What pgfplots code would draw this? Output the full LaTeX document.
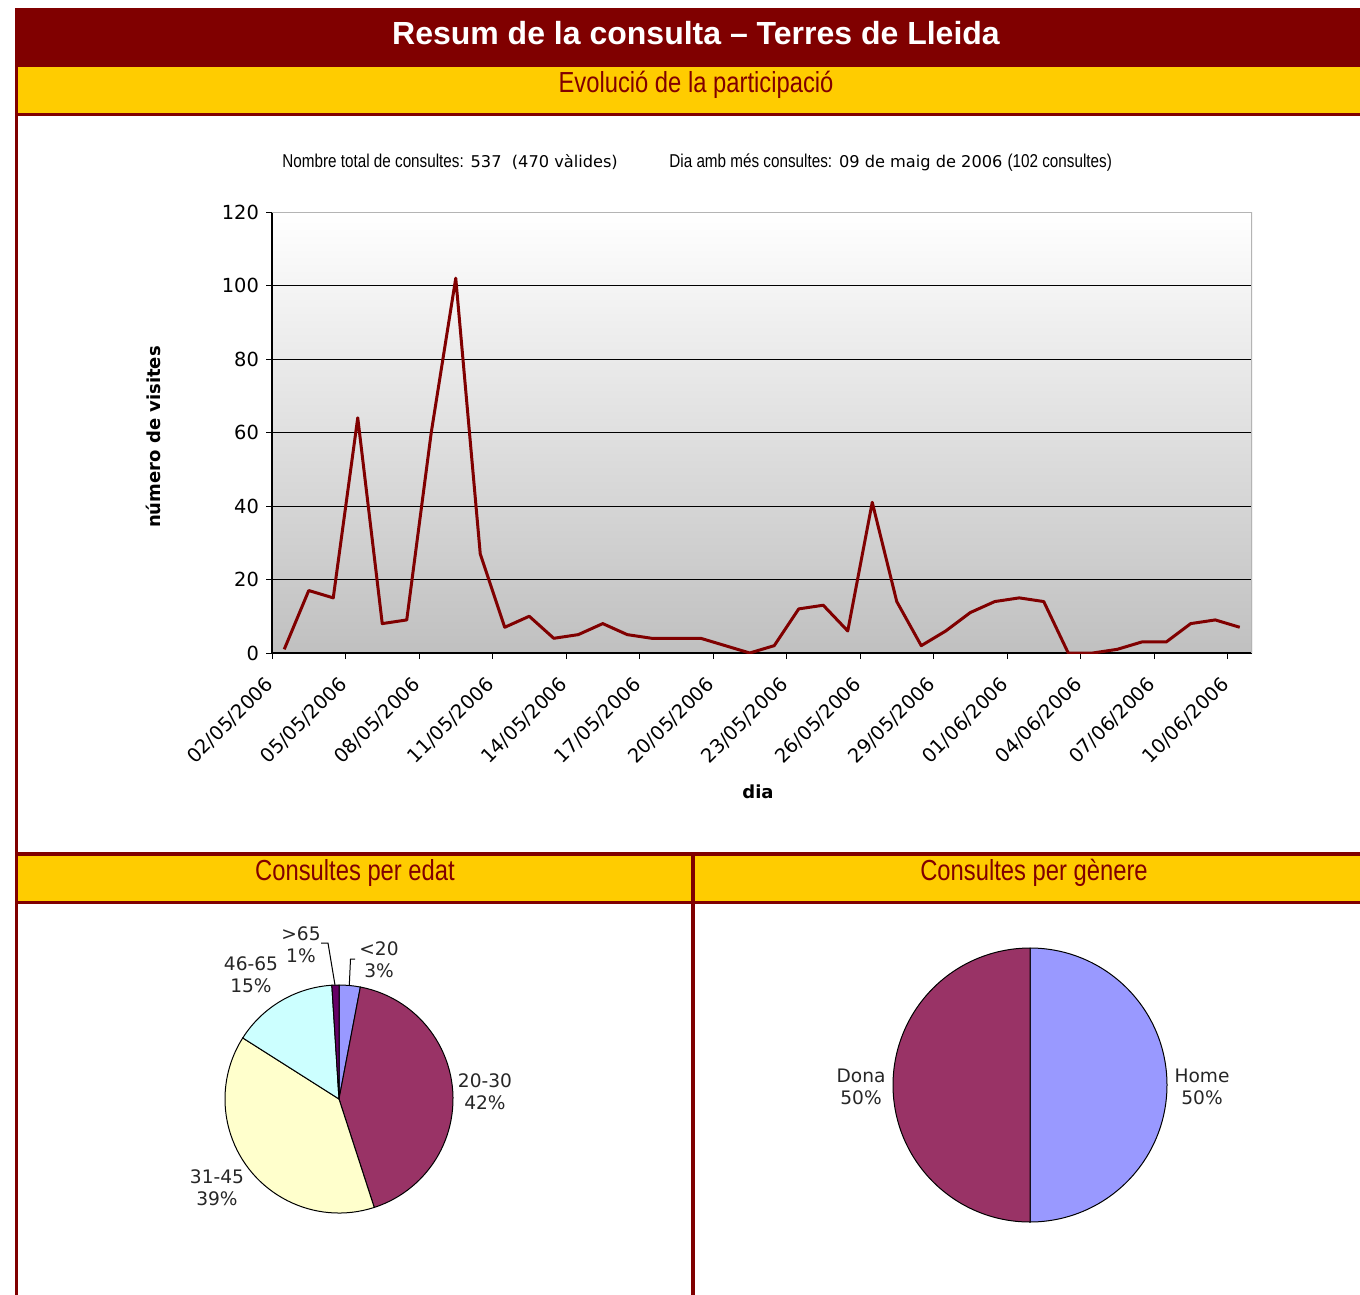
\documentclass[border=0pt]{standalone}
\usepackage{fontspec}
\setmainfont{DejaVu Sans}
\newfontfamily\narrowfont[FakeStretch=0.82]{Liberation Sans}
\newfontfamily\arialfont{Liberation Sans}
\usepackage{pgfplots}
\pgfplotsset{compat=1.18}
\definecolor{dred}{HTML}{800000}
\definecolor{gold}{HTML}{FFCC00}
\definecolor{peri}{HTML}{9999FF}
\definecolor{plum}{HTML}{993366}
\definecolor{ivory}{HTML}{FFFFCC}
\definecolor{lcyan}{HTML}{CCFFFF}
\definecolor{dpurp}{HTML}{660066}
\definecolor{lgray}{HTML}{C0C0C0}
\definecolor{bgray}{HTML}{B4B4B4}

\pgfplotstableread{
day val
0 1
1 17
2 15
3 64
4 8
5 9
6 60
7 102
8 27
9 7
10 10
11 4
12 5
13 8
14 5
15 4
16 4
17 4
18 2
19 0
20 2
21 12
22 13
23 6
24 41
25 14
26 2
27 6
28 11
29 14
30 15
31 14
32 0
33 0
34 1
35 3
36 3
37 8
38 9
39 7
}\visits

% #1 start percent, #2 percent, #3 colour, #4 radius
\newcommand{\slice}[4]{%
  \filldraw[fill=#3, draw=black, line width=0.5pt] (axis cs:0,0) -- (axis cs:{cos(90-3.6*#1)},{sin(90-3.6*#1)})
    arc[start angle={90-3.6*#1}, end angle={90-3.6*(#1+#2)}, radius=#4] -- cycle;}

\begin{document}
\begin{tikzpicture}
\begin{scope}[x=0.5pt,y=-0.5pt]
\useasboundingbox (0,0) rectangle (1360,1295);
% frame and bands
\fill[dred] (15,8) rectangle (1360,67);
\fill[gold] (18,67) rectangle (1360,113);
\fill[dred] (15,113) rectangle (1360,116);
\fill[dred] (15,8) rectangle (18,1295);
\fill[dred] (15,852) rectangle (1360,856);
\fill[gold] (18,856) rectangle (1360,901);
\fill[dred] (15,901) rectangle (1360,904);
\fill[dred] (691,852) rectangle (695,1295);
\fill[gold] (695,856) rectangle (1360,901);
\node[text=white, font=\arialfont\bfseries\fontsize{16}{19}\selectfont] at (696,33) {Resum de la consulta – Terres de Lleida};
\node[text=dred, font=\narrowfont\fontsize{14.5}{17}\selectfont] at (696,85) {Evolució de la participació};
\node[text=dred, font=\narrowfont\fontsize{14.5}{17}\selectfont] at (355,873) {Consultes per edat};
\node[text=dred, font=\narrowfont\fontsize{14.5}{17}\selectfont] at (1034,873) {Consultes per gènere};
% info line
\node[anchor=base west, inner sep=0pt, font=\fontsize{8.1}{10}\selectfont] at (282,168)
  {{\narrowfont\fontsize{9.3}{10}\selectfont Nombre total de consultes:} 537\ \ (470 vàlides)};
\node[anchor=base west, inner sep=0pt, font=\fontsize{8.1}{10}\selectfont] at (669,168)
  {{\narrowfont\fontsize{9.3}{10}\selectfont Dia amb més consultes:} 09 de maig de 2006 {\narrowfont\fontsize{9.3}{10}\selectfont (102 consultes)}};
% axis labels
\node[rotate=90, font=\bfseries\fontsize{9}{11}\selectfont] at (153,437) {número de visites};
\node[font=\bfseries\fontsize{9}{11}\selectfont] at (758,792) {dia};
% pie labels
\begin{scope}[every node/.style={align=center, font=\fontsize{9.3}{11}\selectfont, text=black!85}]
\node at (301,945) {>65\\1\%};
\node at (379,960) {<20\\3\%};
\node at (251,975) {46-65\\15\%};
\node at (485,1092) {20-30\\42\%};
\node at (217,1188) {31-45\\39\%};
\node at (861,1087) {Dona\\50\%};
\node at (1202,1087) {Home\\50\%};
\end{scope}
\draw[black, line width=0.5pt] (321,943) -- (328,943) -- (335,985);
\draw[black, line width=0.5pt] (355,959) -- (350.5,959) -- (349.3,985.5);
\end{scope}

% line chart
\begin{axis}[at={(136pt,-326.5pt)}, anchor=south west, scale only axis,
  width=490pt, height=220.5pt,
  xmin=-0.5, xmax=39.5, ymin=0, ymax=120, ytick={0,20,...,120},
  xtick={-0.5,2.5,...,38.5},
  xticklabels={02/05/2006,05/05/2006,08/05/2006,11/05/2006,14/05/2006,17/05/2006,20/05/2006,23/05/2006,26/05/2006,29/05/2006,01/06/2006,04/06/2006,07/06/2006,10/06/2006},
  axis x line*=bottom, axis y line*=left,
  axis line style={-, black, line width=0.6pt},
  tick align=outside, major tick length=3pt, tick style={black, line width=0.5pt},
  ymajorgrids, grid style={black, line width=0.5pt},
  axis background/.style={top color=white, bottom color=lgray},
  tick label style={font=\fontsize{9.7}{11}\selectfont},
  /pgf/number format/assume math mode=true,
  xticklabel style={rotate=45, anchor=east, xshift=2pt},
  xticklabel shift=10pt,
]
\addplot[dred, line width=1.5pt, line join=round, mark=none] table[x=day, y=val] {\visits};
\draw[bgray, line width=1pt] (rel axis cs:0,1) -- (rel axis cs:1,1) -- (rel axis cs:1,0);
\end{axis}

% age pie
\begin{axis}[at={(169.5pt,-549.5pt)}, anchor=center, scale only axis, hide axis,
  width=114pt, height=114pt, xmin=-1, xmax=1, ymin=-1, ymax=1, clip=false]
\slice{0}{3}{peri}{57pt}
\slice{3}{42}{plum}{57pt}
\slice{45}{39}{ivory}{57pt}
\slice{84}{15}{lcyan}{57pt}
\slice{99}{1}{dpurp}{57pt}
\end{axis}

% gender pie
\begin{axis}[at={(515pt,-542.5pt)}, anchor=center, scale only axis, hide axis,
  width=137pt, height=137pt, xmin=-1, xmax=1, ymin=-1, ymax=1, clip=false]
\slice{0}{50}{peri}{68.5pt}
\slice{50}{50}{plum}{68.5pt}
\end{axis}
\end{tikzpicture}
\end{document}
